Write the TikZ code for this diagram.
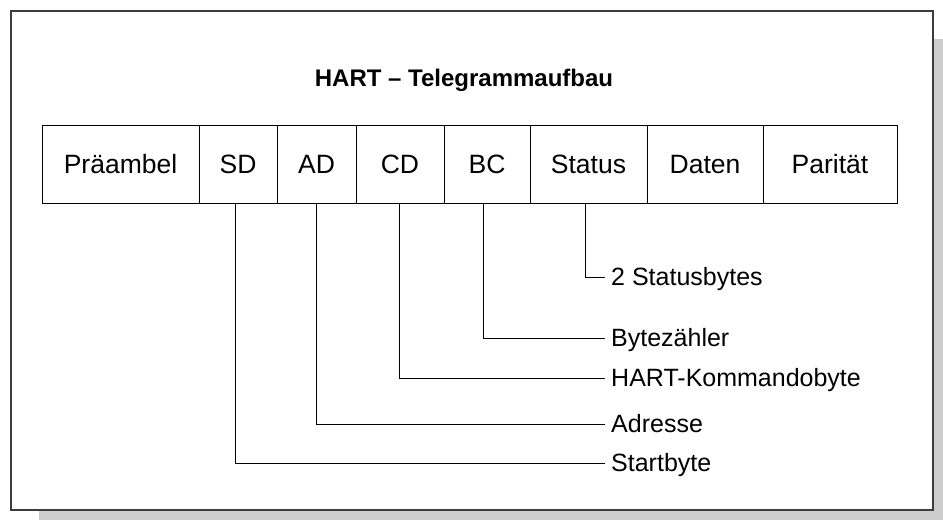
\documentclass[tikz,border=0pt]{standalone}
\usepackage{fontspec}
\setmainfont{Liberation Sans}
\definecolor{shadowgray}{HTML}{CCCCCC}
\definecolor{framegray}{HTML}{3C3C3C}
\begin{document}
\begin{tikzpicture}[x=1pt,y=-1pt,
  cell/.style={draw=black,line width=1pt,minimum height=78pt,inner sep=0pt,
    font=\fontsize{26.5}{31}\selectfont,text height=19pt,text depth=0pt},
  lbl/.style={anchor=west,inner xsep=6pt,inner ysep=0pt,
    font=\fontsize{25}{30}\selectfont,text height=17.9pt,text depth=0pt},
  conn/.style={draw=black,line width=1pt},
  titlestyle/.style={inner sep=0pt,font=\bfseries\fontsize{24}{29}\selectfont,text height=17.2pt,text depth=0pt}]
\useasboundingbox (0,0) rectangle (943,520);
% shadow and frame
\fill[shadowgray] (39,39) rectangle (943,520);
\draw[framegray,line width=1.5pt,fill=white] (11,11) rectangle (933,510);
% title
\node[titlestyle] (title) at (464,77.5) {HART – Telegrammaufbau};
% cells
\node[cell,minimum width=157pt] (pre) at (120.5,164) {Präambel};
\node[cell,minimum width=78pt]  (sd)  at (238,164) {SD};
\node[cell,minimum width=79pt]  (ad)  at (316.5,164) {AD};
\node[cell,minimum width=88pt]  (cd)  at (400,164) {CD};
\node[cell,minimum width=86pt]  (bc)  at (487,164) {BC};
\node[cell,minimum width=117pt] (st)  at (588.5,164) {Status};
\node[cell,minimum width=116pt] (dat) at (705,164) {Daten};
\node[cell,minimum width=134pt] (par) at (830,164) {Parität};
% labels
\node[lbl] (l1) at (605,277) {2 Statusbytes};
\node[lbl] (l2) at (605,338) {Bytezähler};
\node[lbl] (l3) at (605,378) {HART-Kommandobyte};
\node[lbl] (l4) at (605,424) {Adresse};
\node[lbl] (l5) at (605,463) {Startbyte};
% connectors
\draw[conn] ([xshift=-3.5pt]st.south) |- (l1.west);
\draw[conn] ([xshift=-4pt]bc.south) |- (l2.west);
\draw[conn] ([xshift=-1pt]cd.south) |- (l3.west);
\draw[conn] ([xshift=-0.5pt]ad.south) |- (l4.west);
\draw[conn] ([xshift=-3pt]sd.south) |- (l5.west);
\end{tikzpicture}
\end{document}
